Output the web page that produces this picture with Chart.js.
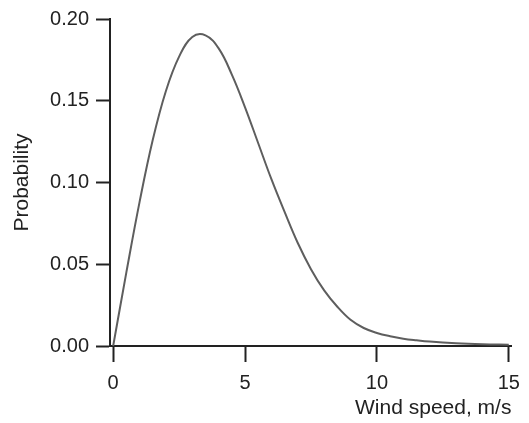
<!DOCTYPE html>
<html lang="en">

<head>
    <meta charset="UTF-8">
    <title>Wind speed distribution</title>
    <style>
        * {
            margin: 0;
            padding: 0;
            box-sizing: border-box;
        }

        html,
        body {
            width: 529px;
            height: 423px;
            background: #fff;
            font-family: "Liberation Sans", Arial, sans-serif;
        }

        .container {
            width: 529px;
            height: 423px;
        }
    </style>
    <script src="https://cdn.jsdelivr.net/npm/chart.js"></script>
</head>

<body>
    <div class="container">
        <canvas id="windChart" width="529" height="423"></canvas>
    </div>

    <script>
        // wind speed (m/s) and probability
        const speeds = [0, 0.5, 1.0, 1.5, 2.0, 2.5, 3.0, 3.5, 4.0, 4.5, 5.0, 5.5, 6.0, 6.5, 7.0,
            7.5, 8.0, 8.5, 9.0, 9.5, 10.0, 10.5, 11.0, 11.5, 12.0, 13.0, 14.0, 15.0];
        const probability = [0, 0.045, 0.088, 0.126, 0.156, 0.177, 0.189, 0.190, 0.182, 0.166, 0.146,
            0.124, 0.102, 0.082, 0.063, 0.047, 0.034, 0.024, 0.016, 0.011, 0.008, 0.006, 0.0045,
            0.0035, 0.0027, 0.0017, 0.0011, 0.0008];

        const xTicks = [0, 5, 10, 15];
        const yTicks = [0, 0.05, 0.10, 0.15, 0.20];

        const points = speeds.map((s, i) => ({ x: s, y: probability[i] }));
        const ink = '#222';

        const ctx = document.getElementById('windChart').getContext('2d');
        new Chart(ctx, {
            type: 'line',
            data: {
                datasets: [{
                    data: points,
                    borderColor: '#5e5e5e',
                    borderWidth: 2,
                    pointRadius: 0,
                    tension: 0.4,
                    fill: false
                }]
            },
            options: {
                responsive: false,
                animation: false,
                layout: { padding: { top: 16, right: 13, bottom: 0, left: 0 } },
                plugins: { legend: { display: false }, tooltip: { enabled: false } },
                scales: {
                    x: {
                        type: 'linear',
                        min: -0.12,
                        max: 15.1,
                        afterBuildTicks: (scale) => { scale.ticks = xTicks.map(v => ({ value: v })); },
                        afterFit: (scale) => { scale.height = 77; },
                        grid: { drawOnChartArea: false, drawTicks: true, tickLength: 16, tickWidth: 2, tickColor: ink },
                        border: { display: true, color: ink, width: 2 },
                        ticks: { color: ink, padding: 9, font: { family: 'Liberation Sans', size: 20 } },
                        title: {
                            display: true,
                            text: 'Wind speed, m/s',
                            align: 'end',
                            color: ink,
                            padding: { top: 0, bottom: 2 },
                            font: { family: 'Liberation Sans', size: 21 }
                        }
                    },
                    y: {
                        min: 0,
                        max: 0.2,
                        afterBuildTicks: (scale) => { scale.ticks = yTicks.map(v => ({ value: v })); },
                        afterFit: (scale) => { scale.width = 110; },
                        grid: { drawOnChartArea: false, drawTicks: true, tickLength: 14, tickWidth: 2, tickColor: ink },
                        border: { display: true, color: ink, width: 2 },
                        ticks: {
                            color: ink,
                            padding: 7,
                            font: { family: 'Liberation Sans', size: 20 },
                            callback: (v) => v.toFixed(2)
                        },
                        title: {
                            display: true,
                            text: 'Probability',
                            color: ink,
                            padding: { top: 10, bottom: 0 },
                            font: { family: 'Liberation Sans', size: 21 }
                        }
                    }
                }
            }
        });
    </script>
</body>

</html>
